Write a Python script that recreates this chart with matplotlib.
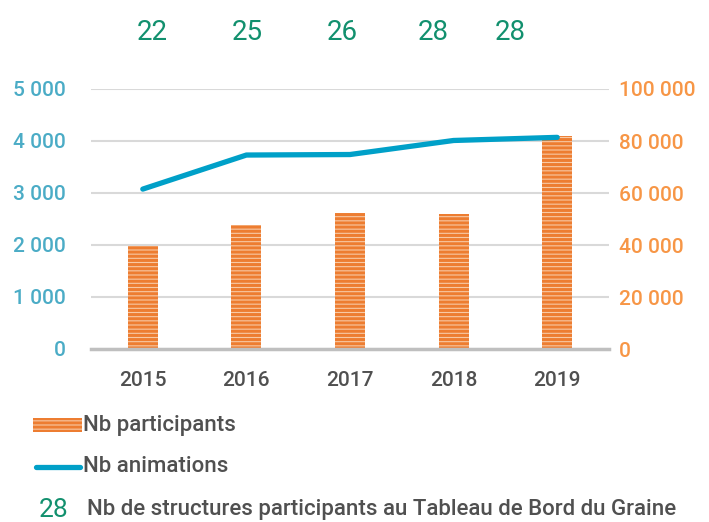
import matplotlib
matplotlib.use("Agg")
import matplotlib.pyplot as plt
from matplotlib.patches import Rectangle
from matplotlib.lines import Line2D
from matplotlib.ticker import FuncFormatter, MultipleLocator
from matplotlib.transforms import blended_transform_factory

# données
years = ["2015", "2016", "2017", "2018", "2019"]
participants = [39800, 47600, 52500, 51800, 81800]
animations = [3075, 3730, 3740, 4010, 4070]
structures = [22, 25, 26, 28, 28]

# couleurs
orange = "#ED7D31"
orange_light = "#F8C9A4"
orange_txt = "#F79646"
blue = "#00A0C8"
blue_txt = "#4BACC6"
green = "#12906E"
grey_txt = "#505050"

plt.rcParams["font.family"] = ["Roboto", "DejaVu Sans"]
plt.rcParams["font.weight"] = "medium"
plt.rcParams["hatch.linewidth"] = 2.2

fig = plt.figure(figsize=(7.09, 5.22), dpi=100)
ax = fig.add_axes([91 / 709, 1 - 349 / 522, 518 / 709, 260 / 522])
ax2 = ax.twinx()

x = range(len(years))

# barres (axe droit)
ax2.bar(x, participants, width=0.29, color=orange_light, edgecolor=orange,
        linewidth=0, hatch="----", zorder=2)
ax2.set_ylim(0, 100000)
ax2.yaxis.set_major_locator(MultipleLocator(20000))
ax2.grid(axis="y", color="#D9D9D9", linewidth=1.5, zorder=0)
ax2.set_axisbelow(True)

# courbe (axe gauche)
ax.plot(x, animations, color=blue, linewidth=3.8, solid_capstyle="round",
        solid_joinstyle="round", zorder=3)
ax.set_ylim(0, 5000)
ax.set_xlim(-0.5, len(years) - 0.5)
ax.yaxis.set_major_locator(MultipleLocator(1000))
ax.set_zorder(ax2.get_zorder() + 1)
ax.patch.set_visible(False)

fmt = FuncFormatter(lambda v, p: f"{v:,.0f}".replace(",", " "))
ax.yaxis.set_major_formatter(fmt)
ax2.yaxis.set_major_formatter(fmt)

ax.set_xticks(list(x))
ax.set_xticklabels(years)
ax.tick_params(axis="x", length=0, pad=16, labelsize=15, labelcolor=grey_txt)
ax.tick_params(axis="y", length=0, pad=18, labelsize=15, labelcolor=blue_txt)
ax2.tick_params(axis="y", length=0, pad=7, labelsize=15, labelcolor=orange_txt)

for a in (ax, ax2):
    for s in a.spines.values():
        s.set_visible(False)
ax.spines["bottom"].set_visible(True)
ax.spines["bottom"].set_color("#BFBFBF")
ax.spines["bottom"].set_linewidth(2.5)

# nombre de structures en haut
label_x = [0.09, 1.01, 1.93, 2.80, 3.55]
trans = blended_transform_factory(ax.transData, fig.transFigure)
for lx, n in zip(label_x, structures):
    ax.text(lx, 1 - 33 / 522, str(n), transform=trans, ha="center", va="center",
            fontsize=20, fontweight="normal", color=green)

# légende
fig.add_artist(Rectangle((33 / 709, 1 - 432 / 522), 49 / 709, 14 / 522,
                         transform=fig.transFigure, facecolor=orange_light,
                         edgecolor=orange, linewidth=0, hatch="----"))
fig.text(83 / 709, 1 - 425 / 522, "Nb participants", ha="left", va="center",
         fontsize=16, color=grey_txt)
fig.add_artist(Line2D([36 / 709, 80 / 709], [1 - 467 / 522] * 2,
                      transform=fig.transFigure, color=blue, linewidth=3.8,
                      solid_capstyle="round"))
fig.text(83 / 709, 1 - 467 / 522, "Nb animations", ha="left", va="center",
         fontsize=16, color=grey_txt)
fig.text(54 / 709, 1 - 510 / 522, "28", ha="center", va="center",
         fontsize=19, fontweight="normal", color=green)
fig.text(87 / 709, 1 - 510 / 522,
         "Nb de structures participants au Tableau de Bord du Graine",
         ha="left", va="center", fontsize=16, color=grey_txt)

fig.savefig("out.png", dpi=100)
